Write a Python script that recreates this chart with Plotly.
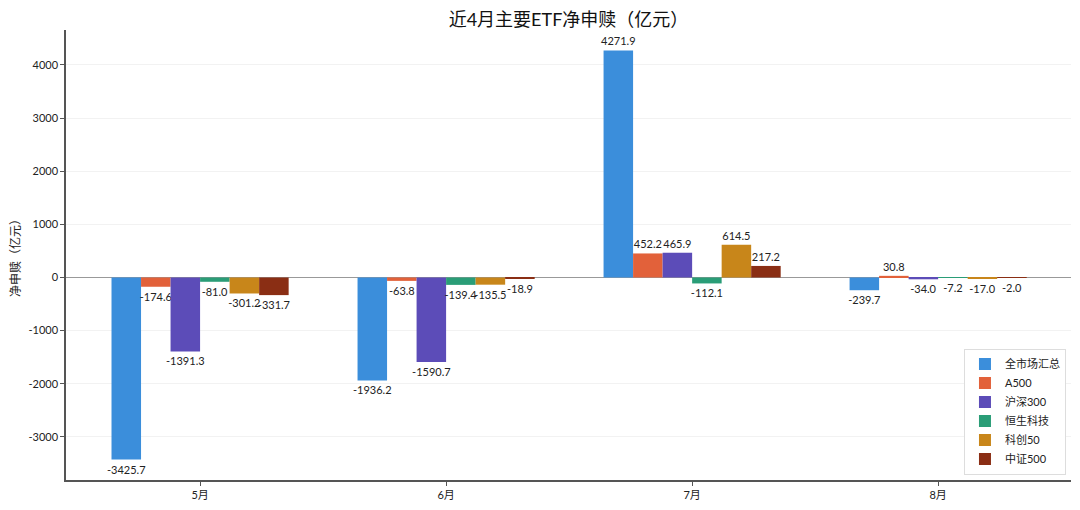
import plotly.graph_objects as go

# Data: net subscription/redemption of major ETFs (亿元)
months = ["5月", "6月", "7月", "8月"]
series_names = ["全市场汇总", "A500", "沪深300", "恒生科技", "科创50", "中证500"]
v_total = [-3425.7, -1936.2, 4271.9, -239.7]
v_a500 = [-174.6, -63.8, 452.2, 30.8]
v_hs300 = [-1391.3, -1590.7, 465.9, -34.0]
v_hstech = [-81.0, -139.4, -112.1, -7.2]
v_kc50 = [-301.2, -135.5, 614.5, -17.0]
v_zz500 = [-331.7, -18.9, 217.2, -2.0]

y_ticks = [-3000, -2000, -1000, 0, 1000, 2000, 3000, 4000]
y_ticklabels = ["-3000", "-2000", "-1000", "0", "1000", "2000", "3000", "4000"]

series_values = [v_total, v_a500, v_hs300, v_hstech, v_kc50, v_zz500]
colors = ["#3B8EDB", "#E2613A", "#5C4CB8", "#2A9D77", "#C8861A", "#8A2E14"]

FONT = "Lato, 'Noto Sans CJK SC', sans-serif"

fig = go.Figure()
for name, vals, col in zip(series_names, series_values, colors):
    fig.add_trace(go.Bar(
        x=months, y=vals, name=name,
        marker=dict(color=col, line=dict(width=0)),
        text=[f"{v:.1f}" for v in vals],
        textposition="outside",
        constraintext="none",
        textfont=dict(size=11, color="#222"),
        cliponaxis=False,
    ))

# matplotlib-like 5% margins
lo, hi = min(min(s) for s in series_values), max(max(s) for s in series_values)
pad = (hi - lo) * 0.05

# page body adds an 8px offset, so the figure is a bit smaller than the window
fig.update_layout(
    width=1072, height=502,
    barmode="group", bargap=0.28, bargroupgap=0,
    plot_bgcolor="white", paper_bgcolor="white",
    font=dict(family=FONT, size=11, color="#222"),
    margin=dict(l=58, r=9, t=22, b=30),
    title=dict(text="近4月主要ETF净申赎（亿元）", x=0.5, xanchor="center",
               xref="paper", yref="container", y=1 - 12 / 502, yanchor="middle",
               font=dict(size=18, color="#111")),
    showlegend=True,
    legend=dict(x=0.995, y=0.012, xanchor="right", yanchor="bottom",
                bgcolor="white", bordercolor="#DDDDDD", borderwidth=1,
                font=dict(size=11), traceorder="normal", tracegroupgap=0),
    xaxis=dict(
        range=[-0.545, 3.54], showline=True, linecolor="#555", linewidth=1.5,
        ticks="outside", ticklen=4, tickcolor="#555", showgrid=False,
        tickfont=dict(size=11), automargin=False,
    ),
    yaxis=dict(
        range=[lo - pad, hi + pad], showline=True, linecolor="#555", linewidth=1.5,
        ticks="outside", ticklen=4, tickcolor="#555",
        tickmode="array", tickvals=y_ticks, ticktext=y_ticklabels,
        showgrid=True, gridcolor="#F2F2F2", gridwidth=1,
        zeroline=True, zerolinecolor="#999", zerolinewidth=1.2,
        title=dict(text="净申赎（亿元）", font=dict(size=12), standoff=10),
        tickfont=dict(size=11), automargin=False,
    ),
)

fig.write_html("out.html")
